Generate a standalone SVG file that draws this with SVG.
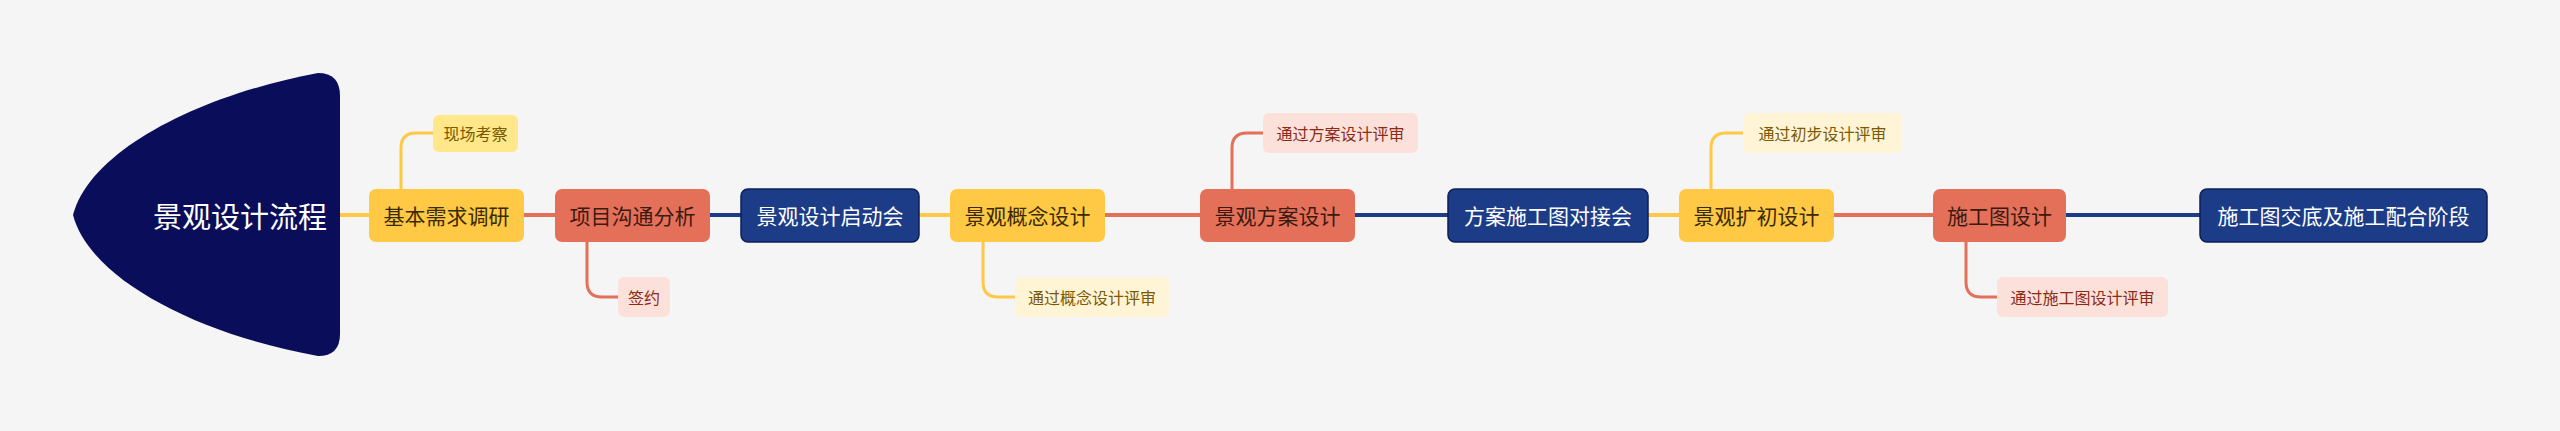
<svg xmlns="http://www.w3.org/2000/svg" width="2560" height="431" viewBox="0 0 2560 431">
<style>
text{font-family:"Noto Sans CJK SC","Liberation Sans",sans-serif;dominant-baseline:central;text-anchor:middle}
.m{font-size:21px}.s{font-size:16px}
.y{fill:#FFC845}.r{fill:#E5705A}.b{fill:#1D3C87;stroke:#0E1E5B;stroke-width:1.5}
.ty{fill:#3A2A00}.tr{fill:#3B1A10}.tb{fill:#fff}
.ly{stroke:#FFC845}.lr{stroke:#E5705A}.lb{stroke:#1D3C87}
.c path,.c line{fill:none;stroke-width:4}
.sc path{stroke-width:3}
</style>
<rect width="2560" height="431" fill="#F5F5F5"/>
<g class="c" id="connectors">
<line class="ly" x1="340" y1="215" x2="369" y2="215"/>
<line class="lr" x1="524" y1="215" x2="555" y2="215"/>
<line class="lb" x1="710" y1="215" x2="741" y2="215"/>
<line class="ly" x1="919" y1="215" x2="950" y2="215"/>
<line class="lr" x1="1105" y1="215" x2="1200" y2="215"/>
<line class="lb" x1="1355" y1="215" x2="1448" y2="215"/>
<line class="ly" x1="1648" y1="215" x2="1679" y2="215"/>
<line class="lr" x1="1834" y1="215" x2="1933" y2="215"/>
<line class="lb" x1="2066" y1="215" x2="2200" y2="215"/>
<g class="sc">
<path class="ly" d="M401 189 V148 Q401 133 416 133 H433"/>
<path class="lr" d="M587 242 V282 Q587 297 602 297 H618"/>
<path class="ly" d="M983 242 V282 Q983 297 998 297 H1015"/>
<path class="lr" d="M1232 189 V148 Q1232 133 1247 133 H1263"/>
<path class="ly" d="M1711 189 V148 Q1711 133 1726 133 H1743"/>
<path class="lr" d="M1966 242 V282 Q1966 297 1981 297 H1997"/>
</g>
</g>
<g id="root"><path d="M318 73 Q340 73 340 96 L340 334 Q340 356 318 356 C200 335 90 280 73 215 C90 150 200 95 318 73 Z" fill="#0A0E5A"/><text x="240" y="215" font-size="29" class="tb">景观设计流程</text></g>
<g id="n1"><rect class="y" x="369" y="189" width="155" height="53" rx="7"/><text class="m ty" x="446.5" y="215">基本需求调研</text></g>
<g id="n2"><rect class="r" x="555" y="189" width="155" height="53" rx="7"/><text class="m tr" x="632.5" y="215">项目沟通分析</text></g>
<g id="n3"><rect class="b" x="741" y="189" width="178" height="53" rx="7"/><text class="m tb" x="830" y="215">景观设计启动会</text></g>
<g id="n4"><rect class="y" x="950" y="189" width="155" height="53" rx="7"/><text class="m ty" x="1027.5" y="215">景观概念设计</text></g>
<g id="n5"><rect class="r" x="1200" y="189" width="155" height="53" rx="7"/><text class="m tr" x="1277.5" y="215">景观方案设计</text></g>
<g id="n6"><rect class="b" x="1448" y="189" width="200" height="53" rx="7"/><text class="m tb" x="1548" y="215">方案施工图对接会</text></g>
<g id="n7"><rect class="y" x="1679" y="189" width="155" height="53" rx="7"/><text class="m ty" x="1756.5" y="215">景观扩初设计</text></g>
<g id="n8"><rect class="r" x="1933" y="189" width="133" height="53" rx="7"/><text class="m tr" x="1999.5" y="215">施工图设计</text></g>
<g id="n9"><rect class="b" x="2200" y="189" width="287" height="53" rx="7"/><text class="m tb" x="2343.5" y="215">施工图交底及施工配合阶段</text></g>
<g id="s1"><rect x="433" y="115" width="85" height="37" rx="6" fill="#FFE78A"/><text class="s" fill="#7A5A00" x="475.5" y="133">现场考察</text></g>
<g id="s2"><rect x="618" y="277" width="52" height="40" rx="6" fill="#FCE1DA"/><text class="s" fill="#8A2A17" x="644" y="297">签约</text></g>
<g id="s3"><rect x="1015" y="277" width="154" height="40" rx="6" fill="#FFF4D6"/><text class="s" fill="#7A5A00" x="1092" y="297">通过概念设计评审</text></g>
<g id="s4"><rect x="1263" y="113" width="155" height="40" rx="6" fill="#FCE1DA"/><text class="s" fill="#8A2A17" x="1340.5" y="133">通过方案设计评审</text></g>
<g id="s5"><rect x="1743" y="113" width="159" height="40" rx="6" fill="#FFF4D6"/><text class="s" fill="#7A5A00" x="1822.5" y="133">通过初步设计评审</text></g>
<g id="s6"><rect x="1997" y="277" width="171" height="40" rx="6" fill="#FCE1DA"/><text class="s" fill="#8A2A17" x="2082.5" y="297">通过施工图设计评审</text></g>
</svg>
